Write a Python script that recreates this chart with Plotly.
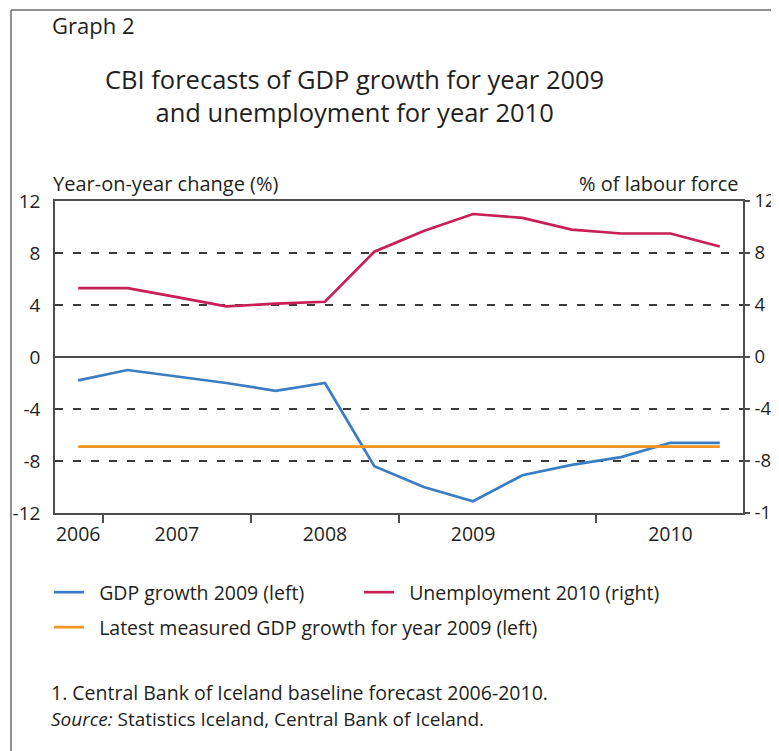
import plotly.graph_objects as go

# ---------------- data ----------------
forecast_year = ["2006", "2007", "2007", "2007", "2008", "2008", "2008",
                 "2009", "2009", "2009", "2009", "2010", "2010", "2010"]
gdp_growth_2009 = [-1.8, -1.0, -1.5, -2.0, -2.6, -2.0, -8.4,
                   -10.0, -11.1, -9.1, -8.3, -7.7, -6.6, -6.6]
unemployment_2010 = [5.3, 5.3, 4.6, 3.9, 4.1, 4.25, 8.1,
                     9.7, 11.0, 10.7, 9.8, 9.5, 9.5, 8.5]
latest_gdp_2009 = [-6.9, -6.9, -6.9, -6.9, -6.9, -6.9, -6.9,
                   -6.9, -6.9, -6.9, -6.9, -6.9, -6.9, -6.9]
y_ticks = [-12, -8, -4, 0, 4, 8, 12]
y_tick_labels = ["-12", "-8", "-4", "0", "4", "8", "12"]

# ---------------- derived positions ----------------
idx = list(range(len(forecast_year)))
years = []
for y in forecast_year:
    if y not in years:
        years.append(y)
label_pos = []
for y in years:
    members = [i for i, v in enumerate(forecast_year) if v == y]
    label_pos.append(members[(len(members) - 1) // 2])
boundaries = [i + 0.5 for i in range(len(forecast_year) - 1)
              if forecast_year[i] != forecast_year[i + 1]]

OFF = 8                      # default page margin around the figure
W, H = 779 - OFF, 751 - OFF  # figure size so it fills the window
# plot-area edges in page pixels
PL, PR, PT, PB = 55, 743, 201, 513
L, R, T, B = PL - OFF, PR - OFF, PT - OFF, PB - OFF


def px(x):   # page pixel -> paper x
    return (x - PL) / (PR - PL)


def py(y):   # page pixel -> paper y
    return (PB - y) / (PB - PT)


FONT = "Open Sans"
TXT = "#231f20"
AX = "#4d4d4d"

BLUE = "#3a7dc2"
RED = "#c81f55"
ORANGE = "#f7931e"
GAP = "\u00a0\u00a0"  # extra space between legend swatch and label

fig = go.Figure()
fig.add_trace(go.Scatter(x=idx, y=gdp_growth_2009, mode="lines",
                         name=GAP + "GDP growth 2009 (left)",
                         line=dict(color=BLUE, width=2.7), legend="legend"))
fig.add_trace(go.Scatter(x=idx, y=unemployment_2010, mode="lines",
                         name=GAP + "Unemployment 2010 (right)", yaxis="y2",
                         line=dict(color=RED, width=2.7), legend="legend"))
fig.add_trace(go.Scatter(x=idx, y=latest_gdp_2009, mode="lines",
                         name=GAP + "Latest measured GDP growth for year 2009 (left)",
                         line=dict(color=ORANGE, width=2.7), legend="legend2"))

fig.update_layout(
    width=W, height=H,
    margin=dict(l=L, r=W - R, t=T, b=H - B, autoexpand=False),
    paper_bgcolor="white", plot_bgcolor="white",
    font=dict(family=FONT, size=19, color=TXT),
    xaxis=dict(
        range=[-0.47, len(forecast_year) - 1 + 0.47],
        tickmode="array", tickvals=label_pos, ticktext=years,
        ticks="outside", ticklen=3, tickcolor="rgba(0,0,0,0)",
        showgrid=False, zeroline=False,
        showline=True, linecolor=AX, linewidth=1.5, mirror=True,
        tickfont=dict(size=19.5),
        minor=dict(tickmode="array", tickvals=boundaries, ticks="outside",
                   ticklen=8, tickcolor=AX, tickwidth=1.5, showgrid=False),
    ),
    yaxis=dict(
        range=[-12, 12], tickmode="array", tickvals=y_ticks, ticktext=y_tick_labels,
        ticks="", ticklabelstandoff=9,
        showgrid=True, gridcolor="#3c3c3c", gridwidth=1.5, griddash="8px,10px",
        zeroline=True, zerolinecolor=AX, zerolinewidth=1.5,
        showline=True, linecolor=AX, linewidth=1.5,
        tickfont=dict(size=19),
    ),
    yaxis2=dict(
        range=[-12, 12], tickmode="array", tickvals=y_ticks, ticktext=y_tick_labels,
        overlaying="y", side="right",
        ticks="outside", ticklen=5, tickcolor=AX, tickwidth=1.5,
        ticklabelstandoff=1,
        showgrid=False, zeroline=False,
        showline=True, linecolor=AX, linewidth=1.5,
        tickfont=dict(size=18.5),
    ),
    legend=dict(orientation="h", x=px(49), y=py(573), xanchor="left", yanchor="top",
                entrywidth=265, entrywidthmode="pixels",
                font=dict(size=19.5), bgcolor="rgba(0,0,0,0)"),
    legend2=dict(orientation="h", x=px(49), y=py(608), xanchor="left", yanchor="top",
                 font=dict(size=19.5), bgcolor="rgba(0,0,0,0)"),
    showlegend=True,
)

annotations = [
    dict(text="Graph 2", x=px(50), y=py(25), xanchor="left", yanchor="middle",
         font=dict(size=22), align="left"),
    dict(text="CBI forecasts of GDP growth for year 2009<br>and unemployment for year 2010",
         x=px(354), y=py(95), xanchor="center", yanchor="middle",
         font=dict(size=25.5), align="center"),
    dict(text="Year-on-year change (%)", x=px(51), y=py(183),
         xanchor="left", yanchor="middle", font=dict(size=20), align="left"),
    dict(text="% of labour force", x=px(741), y=py(183),
         xanchor="right", yanchor="middle", font=dict(size=20), align="right"),
    dict(text="1. Central Bank of Iceland baseline forecast 2006-2010.",
         x=px(49), y=py(692), xanchor="left", yanchor="middle",
         font=dict(size=19.5), align="left"),
    dict(text="<i>Source:</i> Statistics Iceland, Central Bank of Iceland.",
         x=px(49), y=py(719), xanchor="left", yanchor="middle",
         font=dict(size=19), align="left"),
]
for a in annotations:
    a.update(xref="paper", yref="paper", showarrow=False)
fig.update_layout(annotations=annotations)

# outer frame of the graph box
fig.add_shape(type="line", xref="paper", yref="paper",
              x0=px(11), y0=py(10), x1=px(11), y1=py(760),
              line=dict(color="#6d6d6d", width=1.5))
fig.add_shape(type="line", xref="paper", yref="paper",
              x0=px(11), y0=py(10), x1=px(790), y1=py(10),
              line=dict(color="#6d6d6d", width=1.5))

fig.write_html("out.html")
